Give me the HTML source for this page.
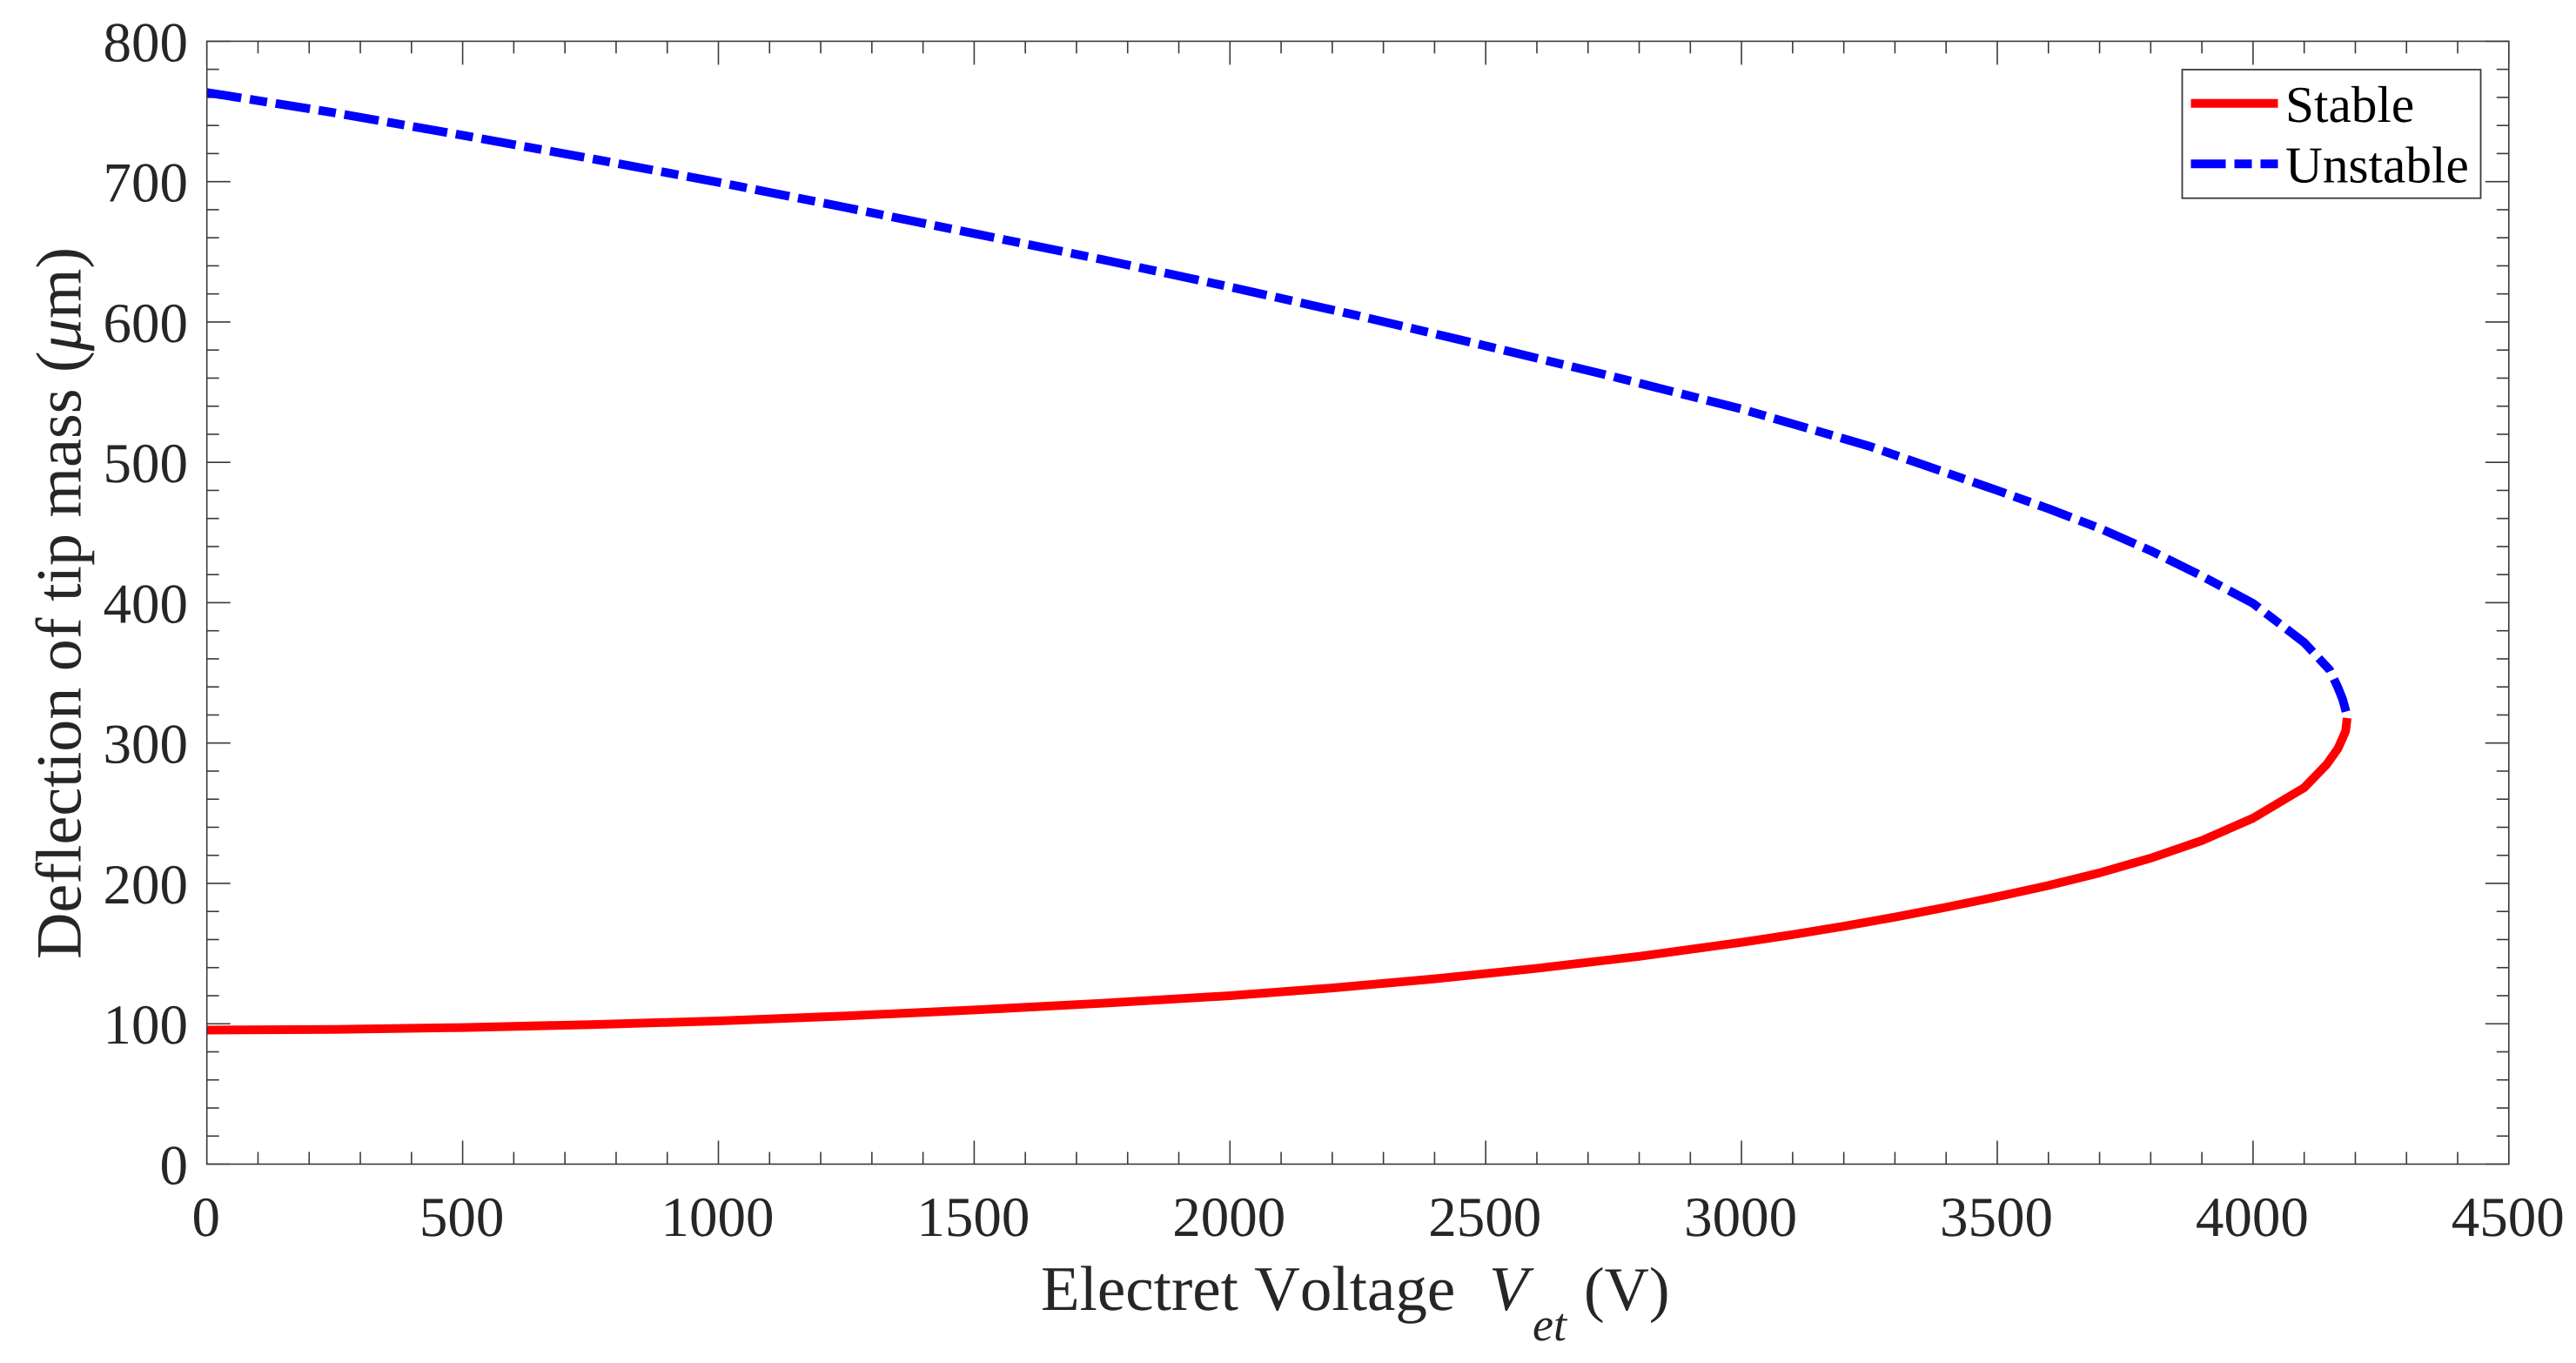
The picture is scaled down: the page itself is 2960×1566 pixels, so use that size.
<!DOCTYPE html>
<html>
<head>
<meta charset="utf-8">
<title>Deflection of tip mass vs Electret Voltage</title>
<style>
html,body{margin:0;padding:0;background:#fff;}
svg{display:block;}
text{font-family:"Liberation Serif",serif;font-kerning:none;text-rendering:geometricPrecision;}
</style>
</head>
<body>
<svg id="chart" xmlns="http://www.w3.org/2000/svg" width="2960" height="1566" viewBox="0 0 2960 1566">
  <rect x="0" y="0" width="2960" height="1566" fill="#ffffff"/>
  <g id="ticks"></g>
  <g id="tick-labels"></g>
  <g id="series"></g>
  <rect x="237.7" y="47.4" width="2645.1" height="1290.1" fill="none" stroke="#3a3a3a" stroke-width="1.6"/>

  <g fill="#262626" font-size="73">
    <text x="1196" y="1505">Electret Voltage</text>
    <text x="1711" y="1505" font-style="italic">V</text>
    <text x="1761" y="1540" font-size="54" font-style="italic">et</text>
    <text x="1820" y="1505" font-size="71">(V)</text>
  </g>
  <text transform="translate(92.7 1102) rotate(-90)" fill="#262626" font-size="74">Deflection of tip mass (<tspan font-style="italic">μ</tspan>m)</text>

  <g>
    <rect x="2507.5" y="80" width="343" height="147.7" fill="#ffffff" stroke="#3a3a3a" stroke-width="1.8"/>
    <line x1="2517.5" y1="118.7" x2="2617.5" y2="118.7" stroke="#ff0000" stroke-width="10"/>
    <text x="2626" y="140" font-size="59.3" fill="#000000">Stable</text>
    <line x1="2517.5" y1="188.3" x2="2617.5" y2="188.3" stroke="#0000ff" stroke-width="10" stroke-dasharray="40 10 20 10"/>
    <text x="2626" y="209.5" font-size="59.3" fill="#000000">Unstable</text>
  </g>
</svg>

<script>
const xTickLabels = ["0","500","1000","1500","2000","2500","3000","3500","4000","4500"];
const yTickLabels = ["0","100","200","300","400","500","600","700","800"];
const stableVoltage = [0,250,500,750,1000,1250,1500,1750,2000,2200,2400,2600,2800,3000,3100,3200,3300,3400,3500,3600,3700,3800,3900,4000,4100,4144,4166,4181,4184];
const stableDeflection = [95.5,96,97.3,99.4,102,105.6,109.8,114.6,120,125.5,132,139.5,148,158,163.5,169.5,176,183,190.5,198.5,207.5,218,230.5,246.5,268.2,284.8,296.1,308.5,317.8];
const unstableVoltage = [0,250,500,750,1000,1250,1500,1750,2000,2250,2500,2750,3000,3250,3500,3600,3700,3800,3900,4000,4100,4150,4166,4175,4182];
const unstableDeflection = [763.5,749,733,716.5,699.5,681.5,663,644.5,625,604.5,583,561,538,511.5,480,467,453,437,419,399.5,371.6,352,339.5,331.3,322];

const svgNS = 'http://www.w3.org/2000/svg';
const plotLeft = 237.7, plotRight = 2882.8, plotTop = 47.4, plotBottom = 1337.5;
const xMax = 4500, yMax = 800;
function xScale(v){ return plotLeft + (v / xMax) * (plotRight - plotLeft); }
function yScale(d){ return plotBottom - (d / yMax) * (plotBottom - plotTop); }

const tickGroup = document.getElementById('ticks');
const labelGroup = document.getElementById('tick-labels');
const seriesGroup = document.getElementById('series');

function addTick(x1, y1, x2, y2, name){
  const t = document.createElementNS(svgNS, 'line');
  t.setAttribute('x1', x1);
  t.setAttribute('y1', y1);
  t.setAttribute('x2', x2);
  t.setAttribute('y2', y2);
  t.setAttribute('stroke', '#3a3a3a');
  t.setAttribute('stroke-width', '1.6');
  
  
  tickGroup.appendChild(t);
}

const majorLen = 27, minorLen = 14;
const xMajorStep = xMax / (xTickLabels.length - 1), xMinorCount = 5;
const yMajorStep = yMax / (yTickLabels.length - 1), yMinorCount = 5;

for (let i = 0; i <= (xTickLabels.length - 1) * xMinorCount; i++) {
  const v = i * xMajorStep / xMinorCount;
  const len = i % xMinorCount === 0 ? majorLen : minorLen;
  addTick(xScale(v), plotBottom, xScale(v), plotBottom - len, 'x-tick-bottom');
  addTick(xScale(v), plotTop, xScale(v), plotTop + len, 'x-tick-top');
}
for (let i = 0; i <= (yTickLabels.length - 1) * yMinorCount; i++) {
  const d = i * yMajorStep / yMinorCount;
  const len = i % yMinorCount === 0 ? majorLen : minorLen;
  addTick(plotLeft, yScale(d), plotLeft + len, yScale(d), 'y-tick-left');
  addTick(plotRight, yScale(d), plotRight - len, yScale(d), 'y-tick-right');
}

xTickLabels.forEach(function(label, i){
  const t = document.createElementNS(svgNS, 'text');
  t.setAttribute('x', xScale(i * xMajorStep) - 1);
  t.setAttribute('y', 1420);
  t.setAttribute('text-anchor', 'middle');
  t.setAttribute('font-size', '65');
  t.setAttribute('fill', '#262626');
  
  
  t.textContent = label;
  labelGroup.appendChild(t);
});
yTickLabels.forEach(function(label, i){
  const t = document.createElementNS(svgNS, 'text');
  t.setAttribute('x', 216);
  t.setAttribute('y', yScale(i * yMajorStep) + 23);
  t.setAttribute('text-anchor', 'end');
  t.setAttribute('font-size', '65');
  t.setAttribute('fill', '#262626');
  
  
  t.textContent = label;
  labelGroup.appendChild(t);
});

function pathFrom(xs, ys){
  return xs.map(function(v, i){
    return (i === 0 ? 'M' : 'L') + xScale(v).toFixed(2) + ' ' + yScale(ys[i]).toFixed(2);
  }).join(' ');
}

const stablePath = document.createElementNS(svgNS, 'path');
stablePath.setAttribute('d', pathFrom(stableVoltage, stableDeflection));
stablePath.setAttribute('fill', 'none');
stablePath.setAttribute('stroke', '#ff0000');
stablePath.setAttribute('stroke-width', '10');
stablePath.setAttribute('stroke-linejoin', 'round');


seriesGroup.appendChild(stablePath);

const unstablePath = document.createElementNS(svgNS, 'path');
unstablePath.setAttribute('d', pathFrom(unstableVoltage, unstableDeflection));
unstablePath.setAttribute('fill', 'none');
unstablePath.setAttribute('stroke', '#0000ff');
unstablePath.setAttribute('stroke-width', '10');
unstablePath.setAttribute('stroke-linejoin', 'round');
unstablePath.setAttribute('stroke-dasharray', '40 10 20 10');


seriesGroup.appendChild(unstablePath);
</script>
</body>
</html>
